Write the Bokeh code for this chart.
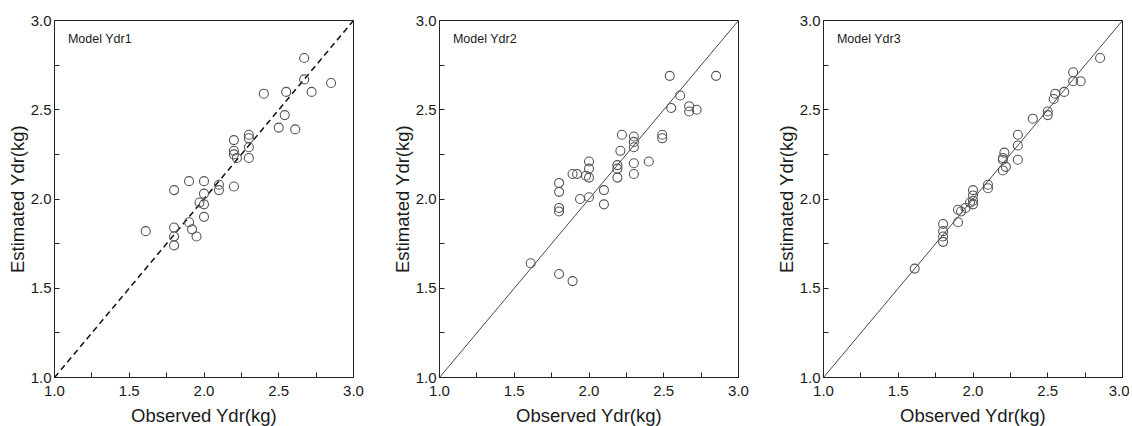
from bokeh.plotting import figure
from bokeh.layouts import row
from bokeh.models import Range1d, FixedTicker, Label, PrintfTickFormatter
from bokeh.embed import file_html
from bokeh.resources import INLINE

# Model Ydr1
obs1 = [2.67, 2.67, 2.85, 2.55, 2.72, 2.40, 2.54, 2.50, 2.61, 2.30, 2.30, 2.30, 2.30,
        2.20, 2.20, 2.20, 2.22, 2.20, 2.10, 2.10, 2.00, 2.00, 2.00, 1.97, 2.00, 1.90,
        1.80, 1.90, 1.92, 1.95, 1.80, 1.80, 1.80, 1.61]
est1 = [2.79, 2.67, 2.65, 2.60, 2.60, 2.59, 2.47, 2.40, 2.39, 2.36, 2.34, 2.29, 2.23,
        2.33, 2.27, 2.25, 2.23, 2.07, 2.08, 2.05, 2.10, 2.03, 1.97, 1.98, 1.90, 2.10,
        2.05, 1.87, 1.83, 1.79, 1.84, 1.79, 1.74, 1.82]

# Model Ydr2
obs2 = [2.54, 2.85, 2.61, 2.55, 2.67, 2.67, 2.72, 2.22, 2.30, 2.30, 2.30, 2.49, 2.49,
        2.21, 2.30, 2.40, 2.30, 2.19, 2.19, 2.19, 2.00, 2.00, 2.00, 1.98, 1.89, 1.92,
        1.80, 1.80, 1.80, 1.80, 1.94, 2.00, 2.10, 2.10, 1.61, 1.80, 1.89]
est2 = [2.69, 2.69, 2.58, 2.51, 2.52, 2.49, 2.50, 2.36, 2.35, 2.32, 2.29, 2.36, 2.34,
        2.27, 2.20, 2.21, 2.14, 2.19, 2.17, 2.12, 2.21, 2.17, 2.12, 2.13, 2.14, 2.14,
        2.09, 2.04, 1.95, 1.93, 2.00, 2.01, 2.05, 1.97, 1.64, 1.58, 1.54]

# Model Ydr3
obs3 = [2.85, 2.67, 2.67, 2.72, 2.61, 2.55, 2.54, 2.50, 2.50, 2.40, 2.30, 2.30, 2.30,
        2.21, 2.20, 2.20, 2.22, 2.20, 2.10, 2.10, 2.00, 2.00, 2.00, 2.00, 1.98, 1.95,
        1.90, 1.92, 1.90, 1.80, 1.80, 1.80, 1.80, 1.61]
est3 = [2.79, 2.71, 2.66, 2.66, 2.60, 2.59, 2.56, 2.49, 2.47, 2.45, 2.36, 2.30, 2.22,
        2.26, 2.23, 2.22, 2.18, 2.16, 2.08, 2.06, 2.05, 2.02, 1.97, 1.99, 1.98, 1.95,
        1.94, 1.93, 1.87, 1.86, 1.82, 1.79, 1.76, 1.61]

titles = ["Model Ydr1", "Model Ydr2", "Model Ydr3"]
line_range = [1.0, 3.0]
major_ticks = [1.0, 1.5, 2.0, 2.5, 3.0]
minor_ticks = [1.25, 1.75, 2.25, 2.75]

FONT = "Liberation Sans"
TXT = "#1a1a1a"


def make_panel(obs, est, title, dashed, right_border):
    p = figure(frame_width=299, frame_height=357, output_backend="svg",
               toolbar_location=None, x_range=Range1d(1, 3), y_range=Range1d(1, 3),
               min_border_left=54, min_border_right=right_border,
               min_border_top=20, min_border_bottom=49,
               background_fill_color="white", border_fill_color="white")
    p.grid.visible = False
    p.outline_line_color = "#222222"
    p.outline_line_width = 1
    for ax in (p.xaxis[0], p.yaxis[0]):
        ax.ticker = FixedTicker(ticks=major_ticks, minor_ticks=minor_ticks)
        ax.formatter = PrintfTickFormatter(format="%.1f")
        ax.major_tick_in = 5
        ax.major_tick_out = 0
        ax.minor_tick_in = 5
        ax.minor_tick_out = 0
        ax.axis_line_color = "#222222"
        ax.major_tick_line_color = "#222222"
        ax.minor_tick_line_color = "#222222"
        ax.major_label_text_font = FONT
        ax.major_label_text_font_size = "15px"
        ax.major_label_text_color = TXT
        ax.axis_label_text_font = FONT
        ax.axis_label_text_font_size = "18.5px"
        ax.axis_label_text_font_style = "normal"
        ax.axis_label_text_color = TXT
    p.xaxis.major_label_standoff = 8
    p.xaxis.axis_label_standoff = 6
    p.yaxis.major_label_standoff = 3
    p.yaxis.axis_label_standoff = 0
    p.xaxis.axis_label = "Observed Ydr(kg)"
    p.yaxis.axis_label = "Estimated Ydr(kg)"

    if dashed:
        p.line(line_range, line_range, line_color="#111111", line_width=1.5, line_dash="6 4")
    else:
        p.line(line_range, line_range, line_color="#333333", line_width=0.9)

    p.scatter(obs, est, size=9, marker="circle", fill_color=None,
              line_color="#555555", line_width=1.1)

    p.add_layout(Label(x=1.09, y=2.935, text=title, text_font=FONT,
                       text_font_size="12.5px", text_color=TXT, text_baseline="top"))
    return p


p1 = make_panel(obs1, est1, titles[0], True, 32)
p2 = make_panel(obs2, est2, titles[1], False, 31)
p3 = make_panel(obs3, est3, titles[2], False, 7)

layout = row(p1, p2, p3)
open("out.html", "w").write(file_html(layout, INLINE))
